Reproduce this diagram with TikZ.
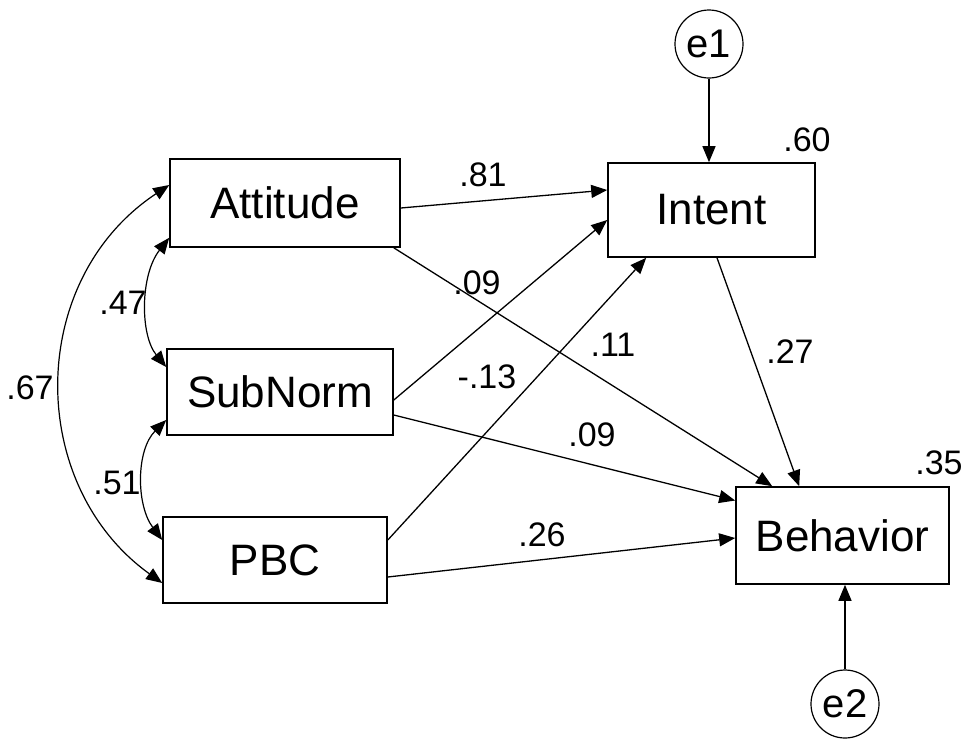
\documentclass[tikz,border=0pt]{standalone}
\usepackage{fontspec}
\setmainfont{Liberation Sans}
\usetikzlibrary{arrows.meta,calc}
\begin{document}
\begin{tikzpicture}[x=1pt,y=-1pt,
  var/.style={draw,line width=1.6pt,rectangle,inner sep=0pt,font=\fontsize{44}{50}\selectfont},
  err/.style={draw,line width=1.2pt,circle,inner sep=0pt,minimum size=68pt,font=\fontsize{40}{46}\selectfont},
  path/.style={line width=1.3pt,-{Triangle[length=16pt,width=13pt]}},
  cov/.style={line width=1.2pt,{Triangle[length=16pt,width=13pt]}-{Triangle[length=16pt,width=13pt]}},
  lab/.style={font=\fontsize{34}{38}\selectfont,inner sep=0pt}]
\useasboundingbox (0,0) rectangle (962,740);
% variables
\node[var,minimum width=230pt,minimum height=88pt] (att) at (285,203) {Attitude};
\node[var,minimum width=226pt,minimum height=86pt] (sub) at (280,392) {SubNorm};
\node[var,minimum width=224pt,minimum height=86pt] (pbc) at (275,560) {PBC};
\node[var,minimum width=207pt,minimum height=94pt] (int) at (711.5,210) {Intent};
\node[var,minimum width=213pt,minimum height=97pt] (beh) at (842.5,535.5) {Behavior};
\node[err] (e1) at (709,44) {e1};
\node[err] (e2) at (845,704) {e2};
% paths
\draw[path] ($(att.east)+(0,5)$) -- ($(int.west)+(0,-20)$);
\draw[path] ($(att.south east)+(-7,0)$) -- ($(beh.north west)+(37,0)$);
\draw[path] ($(sub.east)+(0,8)$) -- ($(int.west)+(0,10)$);
\draw[path] ($(sub.east)+(0,23)$) -- ($(beh.west)+(0,-35)$);
\draw[path] ($(pbc.east)+(0,-20)$) -- ($(int.south west)+(39,0)$);
\draw[path] ($(pbc.east)+(0,17)$) -- ($(beh.west)+(0,2.5)$);
\draw[path] ($(int.south)+(5.5,0)$) -- ($(beh.north west)+(64,0)$);
\draw[path] (e1.south) -- (e1.south |- int.north);
\draw[path] (e2.north) -- (e2.north |- beh.south);
% covariances
\draw[cov] ($(att.west)+(0,-18)$) .. controls (26,280) and (26,485) .. ($(pbc.west)+(0,23)$);
\draw[cov] ($(att.south west)+(0,-10)$) .. controls (140,275) and (140,335) .. ($(sub.west)+(0,-25)$);
\draw[cov] ($(sub.west)+(0,28)$) .. controls (136,450) and (136,505) .. ($(pbc.west)+(0,-20)$);
% labels
\node[lab] (l81) at (483,175) {.81};
\node[lab] (l09a) at (477,283) {.09};
\node[lab] (l11) at (613,345) {.11};
\node[lab] (l13) at (487,377) {-.13};
\node[lab] (l09b) at (592,435) {.09};
\node[lab] (l26) at (542,535) {.26};
\node[lab] (l27) at (790,352) {.27};
\node[lab] (l60) at (807,140) {.60};
\node[lab] (l35) at (939,463) {.35};
\node[lab] (l67) at (30,388) {.67};
\node[lab] (l47) at (123,303) {.47};
\node[lab] (l51) at (117,483) {.51};
\end{tikzpicture}
\end{document}
